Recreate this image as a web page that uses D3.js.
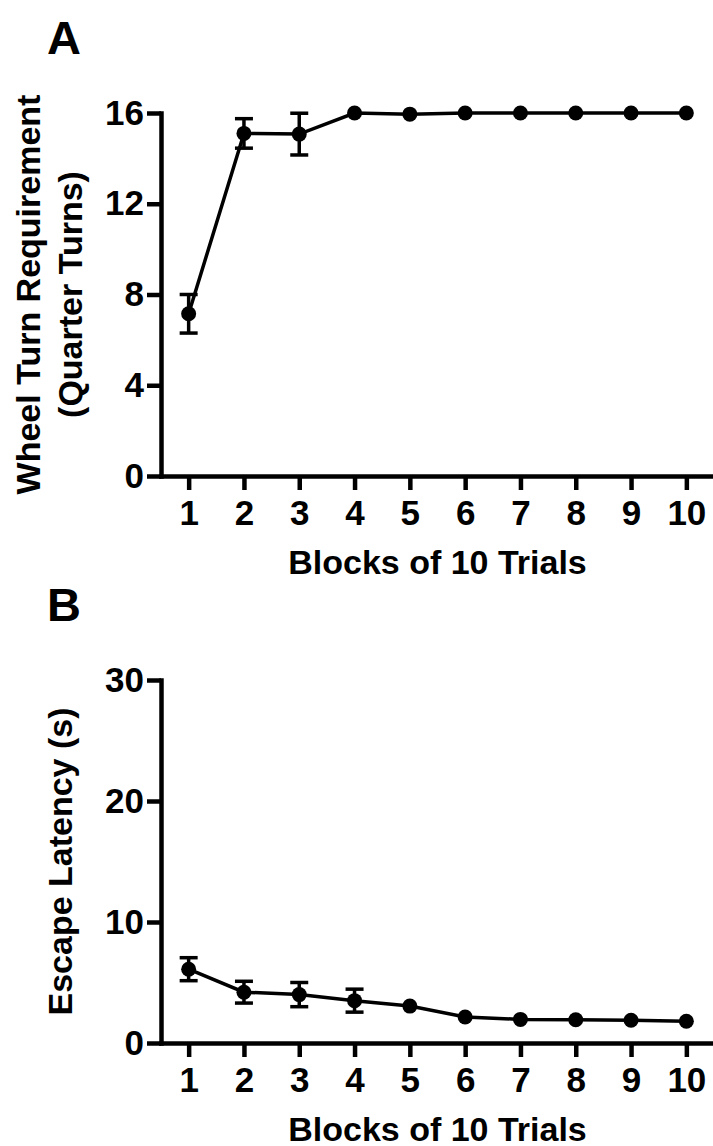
<!DOCTYPE html>
<html>
<head>
<meta charset="utf-8">
<script src="https://cdn.jsdelivr.net/npm/d3@7"></script>
<style>
  body { margin: 0; background: #fff; }
  svg { display: block; }
  text { font-family: "Liberation Sans", Arial, Helvetica, sans-serif; font-weight: bold; fill: #000; }
  .axis path, .axis line { stroke: #000; stroke-width: 4.5; }
  .axis text { font-size: 35px; }
</style>
</head>
<body>
<svg id="chart" width="713" height="1146"></svg>
<script>
// Values
const blocks = [1, 2, 3, 4, 5, 6, 7, 8, 9, 10]
const wheelMean = [7.15, 15.1, 15.07, 16, 15.95, 16, 16, 16, 16, 16]
const wheelSem = [0.85, 0.65, 0.92, 0, 0.05, 0, 0, 0, 0, 0]
const latencyMean = [6.1, 4.2, 4.0, 3.5, 3.05, 2.15, 1.95, 1.92, 1.88, 1.8]
const latencySem = [0.95, 0.9, 1.0, 0.95, 0.2, 0.15, 0.1, 0.1, 0.1, 0.1]
const wheelTicks = [0, 4, 8, 12, 16]
const latencyTicks = [0, 10, 20, 30]
const xTitle = 'Blocks of 10 Trials'

const svg = d3.select('#chart')

const R = 7.5 // marker radius
const CAP = 9 // half width of error bar cap

function drawPanel (opts) {
  const g = svg.append('g')

  const x = d3.scaleLinear()
      .domain([0.5, 10.5])
      .range([161, 714])

  const y = d3.scaleLinear()
      .domain(opts.yDomain)
      .range([opts.top + 363, opts.top])

  // Axes
  g.append('g')
    .attr('class', 'axis')
    .attr('transform', 'translate(0,' + y(0) + ')')
    .call(d3.axisBottom(x).tickValues(blocks).tickSize(14).tickSizeOuter(0).tickPadding(10))

  g.append('g')
    .attr('class', 'axis')
    .attr('transform', 'translate(' + x(0.5) + ',0)')
    .call(d3.axisLeft(y).tickValues(opts.ticks).tickSize(14).tickSizeOuter(0).tickPadding(3))

  g.selectAll('.axis .domain').attr('stroke-linecap', 'square')

  // Titles
  g.append('text')
    .attr('x', (x.range()[0] + x.range()[1]) / 2)
    .attr('y', y(0) + 98)
    .attr('text-anchor', 'middle')
    .style('font-size', '34px')
    .text(xTitle)

  const midY = (y.range()[0] + y.range()[1]) / 2
  opts.yTitle.forEach((line, i) => {
    g.append('text')
      .attr('transform', 'translate(' + opts.yTitleX[i] + ',' + midY + ') rotate(-90)')
      .attr('text-anchor', 'middle')
      .style('font-size', '34px')
      .text(line)
  })

  g.append('text')
    .attr('x', 47)
    .attr('y', opts.top - 59)
    .style('font-size', '47px')
    .text(opts.label)

  // Error bars (only where they stick out of the marker)
  const pts = blocks.map((b, i) => ({ b: b, m: opts.mean[i], s: opts.sem[i] }))
  const bars = g.selectAll('.err')
      .data(pts.filter(d => y(0) - y(d.s) > R))
      .enter().append('g')
      .attr('class', 'err')
      .attr('stroke', '#000')
      .attr('stroke-width', 3.5)

  bars.append('line')
    .attr('x1', d => x(d.b)).attr('x2', d => x(d.b))
    .attr('y1', d => y(d.m - d.s)).attr('y2', d => y(d.m + d.s))
  bars.append('line')
    .attr('x1', d => x(d.b) - CAP).attr('x2', d => x(d.b) + CAP)
    .attr('y1', d => y(d.m + d.s)).attr('y2', d => y(d.m + d.s))
  bars.append('line')
    .attr('x1', d => x(d.b) - CAP).attr('x2', d => x(d.b) + CAP)
    .attr('y1', d => y(d.m - d.s)).attr('y2', d => y(d.m - d.s))

  // Line and markers
  g.append('path')
    .datum(pts)
    .attr('fill', 'none')
    .attr('stroke', '#000')
    .attr('stroke-width', 3.5)
    .attr('d', d3.line().x(d => x(d.b)).y(d => y(d.m)))

  g.selectAll('.dot')
    .data(pts)
    .enter().append('circle')
    .attr('class', 'dot')
    .attr('cx', d => x(d.b))
    .attr('cy', d => y(d.m))
    .attr('r', R)
    .attr('fill', '#000')
}

drawPanel({
  label: 'A',
  top: 113,
  yDomain: [0, 16],
  ticks: wheelTicks,
  mean: wheelMean,
  sem: wheelSem,
  yTitle: ['Wheel Turn Requirement', '(Quarter Turns)'],
  yTitleX: [40, 82]
})

drawPanel({
  label: 'B',
  top: 680,
  yDomain: [0, 30],
  ticks: latencyTicks,
  mean: latencyMean,
  sem: latencySem,
  yTitle: ['Escape Latency (s)'],
  yTitleX: [72]
})
</script>
</body>
</html>
